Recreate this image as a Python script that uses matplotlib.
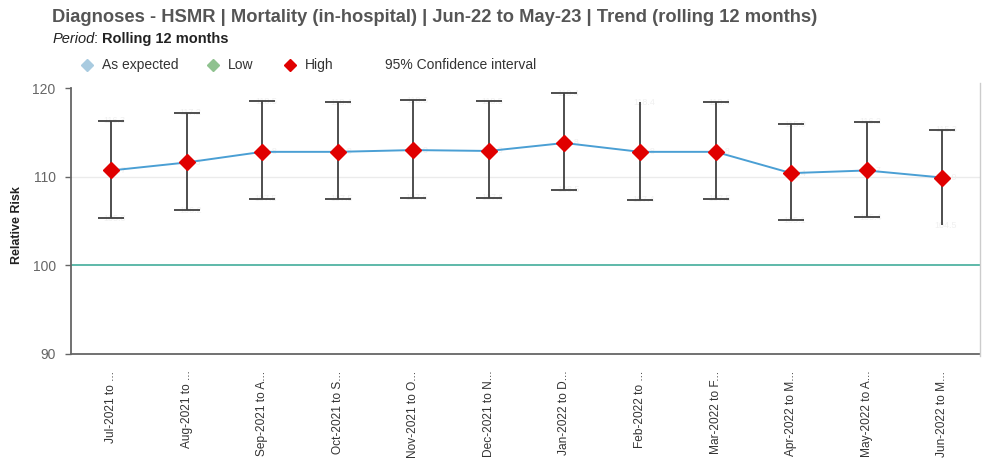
import matplotlib
matplotlib.use("Agg")
import matplotlib.pyplot as plt
from matplotlib.lines import Line2D
import numpy as np

plt.rcParams['font.family'] = ['Liberation Sans', 'DejaVu Sans']

# Rolling 12-month periods (labels as displayed, truncated)
periods = ["Jul-2021 to ...", "Aug-2021 to ...", "Sep-2021 to A...",
           "Oct-2021 to S...", "Nov-2021 to O...", "Dec-2021 to N...",
           "Jan-2022 to D...", "Feb-2022 to ...", "Mar-2022 to F...",
           "Apr-2022 to M...", "May-2022 to A...", "Jun-2022 to M..."]

# Relative risk (HSMR) and 95% confidence limits
relative_risk = [110.7, 111.6, 112.8, 112.8, 113.0, 112.9, 113.8, 112.8, 112.8, 110.4, 110.7, 109.9]
ci_upper = [116.3, 117.2, 118.5, 118.4, 118.6, 118.5, 119.4, 118.4, 118.4, 115.9, 116.2, 115.3]
ci_lower = [105.3, 106.2, 107.5, 107.5, 107.6, 107.6, 108.5, 107.4, 107.5, 105.1, 105.4, 104.5]
# Caps drawn at the end of each interval
cap_upper = [True, True, True, True, True, True, True, False, True, True, True, True]
cap_lower = [True, True, True, True, True, True, True, True, True, True, True, False]

benchmark = 100
y_ticks = [90, 100, 110, 120]

fig = plt.figure(figsize=(9.83, 4.62), dpi=100)
ax = fig.add_axes([0.0722, 0.2338, 0.9248, 0.5757])

x = np.arange(len(periods))

# Gridline and benchmark line
ax.axhline(110, color='#ebebeb', lw=1.0, zorder=0)
ax.axhline(benchmark, color='#5db9a9', lw=1.4, zorder=1)

# Faint confidence limit values
for xi, lo, hi, v in zip(x, ci_lower, ci_upper, relative_risk):
    for val in (lo, hi, v):
        ax.text(xi + 0.05, val, f"{val:.1f}", color='#f0f0f0', fontsize=6.5,
                ha='center', va='center', zorder=0)

# Confidence intervals
ax.vlines(x, ci_lower, ci_upper, color='#404040', lw=1.3, zorder=2)
xu = [xi for xi, c in zip(x, cap_upper) if c]
yu = [v for v, c in zip(ci_upper, cap_upper) if c]
xl = [xi for xi, c in zip(x, cap_lower) if c]
yl = [v for v, c in zip(ci_lower, cap_lower) if c]
ax.plot(xu, yu, ls='none', marker='_', ms=19, mew=1.3, color='#404040', zorder=2)
ax.plot(xl, yl, ls='none', marker='_', ms=19, mew=1.3, color='#404040', zorder=2)

# Trend line and points
ax.plot(x, relative_risk, color='#4a9fd4', lw=1.4, zorder=3)
ax.plot(x, relative_risk, ls='none', marker='D', ms=8.5, color='#e00000',
        markeredgecolor='#e00000', zorder=4)

ax.set_xlim(-0.53, 11.5)
ax.set_ylim(90, 120)
ax.set_yticks(y_ticks)
ax.set_yticklabels([str(t) for t in y_ticks], color='#666666', fontsize=10)
ax.set_xticks(x)
ax.set_xticklabels(periods, rotation=90, fontsize=8.6, color='#333333')
ax.tick_params(axis='x', length=0, pad=12)
ax.tick_params(axis='y', length=4, width=1, color='#666666', pad=7)

for s in ['top', 'right']:
    ax.spines[s].set_visible(False)
ax.spines['left'].set_color('#666666')
ax.spines['left'].set_linewidth(1.3)
ax.spines['bottom'].set_color('#666666')
ax.spines['bottom'].set_linewidth(1.3)

ax.set_ylabel("Relative Risk", fontsize=9, fontweight='bold', color='#222222')
ax.yaxis.set_label_coords(-0.053, 0.485)

# Right-hand border of the chart panel
fig.add_artist(Line2D([0.997, 0.997], [0.23, 0.82], transform=fig.transFigure,
                      color='#cccccc', lw=1.0))

# Title and subtitle
fig.text(0.053, 0.963, "Diagnoses - HSMR | Mortality (in-hospital) | Jun-22 to May-23 | Trend (rolling 12 months)",
         fontsize=13.2, fontweight='bold', color='#555555', va='center', ha='left')
t1 = fig.text(0.053, 0.915, "Period", fontsize=10.5, style='italic', color='#222222', va='center')
fig.canvas.draw()
r = fig.canvas.get_renderer()
bb = t1.get_window_extent(r)
t2 = fig.text(bb.x1 / fig.bbox.width, 0.915, ": ", fontsize=10.5, color='#222222', va='center')
bb2 = t2.get_window_extent(r)
fig.text(bb2.x1 / fig.bbox.width, 0.915, "Rolling 12 months", fontsize=10.5,
         fontweight='bold', color='#222222', va='center')

# Legend row
legend_y = 1 - 65 / 462
items = [(87, '#a9cbe0', "As expected"), (213, '#8fc28f', "Low"), (290, '#e00000', "High")]
for px, col, label in items:
    fig.add_artist(Line2D([px / 983], [legend_y], transform=fig.transFigure,
                          marker='D', ms=6.5, color=col, ls='none'))
    fig.text((px + 15) / 983, legend_y, label, fontsize=10, color='#333333', va='center')
fig.text(385 / 983, legend_y, "95% Confidence interval", fontsize=10, color='#333333', va='center')

fig.savefig("out.png", dpi=100)
